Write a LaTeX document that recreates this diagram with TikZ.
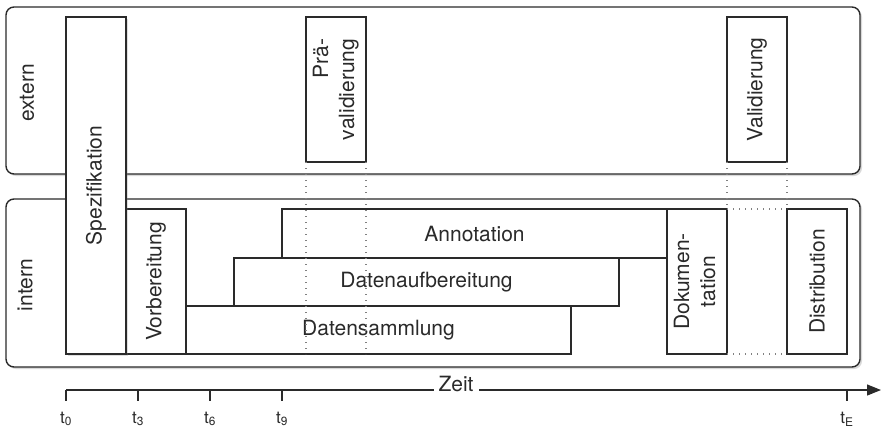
\documentclass[tikz,border=0pt]{standalone}
\usepackage{fontspec}
\setmainfont{TeX Gyre Heros}
\usetikzlibrary{shadows,arrows.meta}
\definecolor{lc}{HTML}{2A2A2A}
\begin{document}
\begin{tikzpicture}[x=1pt,y=-1pt,
  txt/.style={font=\fontsize{21}{26}\selectfont, text=lc},
  lane/.style={draw=lc, line width=1.4pt, rounded corners=8pt, fill=white, inner sep=0pt,
    drop shadow={shadow xshift=2pt, shadow yshift=-2pt, opacity=0.3}},
  pbox/.style={draw=lc, line width=1.2pt, fill=white, inner sep=0pt, outer sep=0pt, txt},
  dots/.style={draw=gray, line width=1.1pt, dash pattern=on 1.3pt off 4.7pt},
  tick/.style={draw=lc, line width=1.2pt},
  tlab/.style={font=\fontsize{17}{19}\selectfont, text=lc}]
\useasboundingbox (0,0) rectangle (882,429);
% lanes
\node[lane, minimum width=854pt, minimum height=167pt] (ext) at (433,90.5) {};
\node[lane, minimum width=854pt, minimum height=168pt] (int) at (433,283) {};
\node[txt] (extl) at (27,93) {\rotatebox{90}{extern}};
\node[txt] (intl) at (25,285) {\rotatebox{90}{intern}};
% internal boxes
\node[pbox, minimum width=60pt, minimum height=145pt] (vorb) at (156,281.5) {\rotatebox{90}{Vorbereitung}};
\node[pbox, minimum width=385pt, minimum height=48pt] (dsam) at (378.5,330) {Datensammlung};
\node[pbox, minimum width=385pt, minimum height=48pt] (dauf) at (426.5,282) {Datenaufbereitung};
\node[pbox, minimum width=385pt, minimum height=49pt] (anno) at (474.5,233.5) {Annotation};
\node[pbox, minimum width=60pt, minimum height=145pt] (doku) at (697,281.5) {\rotatebox{90}{\begin{tabular}{@{}c@{}}Dokumen-\\tation\end{tabular}}};
\node[pbox, minimum width=60pt, minimum height=145pt] (dist) at (817,281.5) {\rotatebox{90}{Distribution}};
% external boxes
\node[pbox, minimum width=60pt, minimum height=145pt] (prae) at (336,89.5) {\rotatebox{90}{\begin{tabular}{@{}r@{}}Prä-\\validierung\end{tabular}}};
\node[pbox, minimum width=60pt, minimum height=145pt] (vali) at (757,89.5) {\rotatebox{90}{Validierung}};
% Spezifikation spanning both lanes
\node[pbox, minimum width=60pt, minimum height=337pt,
  drop shadow={shadow xshift=2pt, shadow yshift=-2pt, opacity=0.25}] (spez) at (96,185.5) {\rotatebox{90}{Spezifikation}};
% dotted guides
\draw[dots] (prae.south west) -- (prae.south west |- dsam.south);
\draw[dots] (prae.south east) -- (prae.south east |- dsam.south);
\draw[dots] (vali.south west) -- (doku.north east);
\draw[dots] (vali.south east) -- (dist.north west);
\draw[dots] (doku.north east) -- (dist.north west);
\draw[dots] (doku.south east) -- (dist.south west);
% time axis
\coordinate (t0) at (66,390);
\coordinate (t3) at (138,390);
\coordinate (t6) at (210,390);
\coordinate (t9) at (282,390);
\coordinate (tE) at (847,390);
\coordinate (axend) at (881,390);
\draw[draw=lc, line width=1.2pt, -{Triangle[length=14pt,width=11pt]}] (t0) -- (axend);
\foreach \c/\l in {t0/0, t3/3, t6/6, t9/9, tE/E} {
  \draw[tick] (\c) -- ++(0,11);
  \node[tlab] (lab\c) at ([yshift=-29pt]\c) {t\textsubscript{\l}};
}
\node[txt, fill=white, inner xsep=5pt, inner ysep=1pt] (zeit) at (456,384) {Zeit};
\end{tikzpicture}
\end{document}
